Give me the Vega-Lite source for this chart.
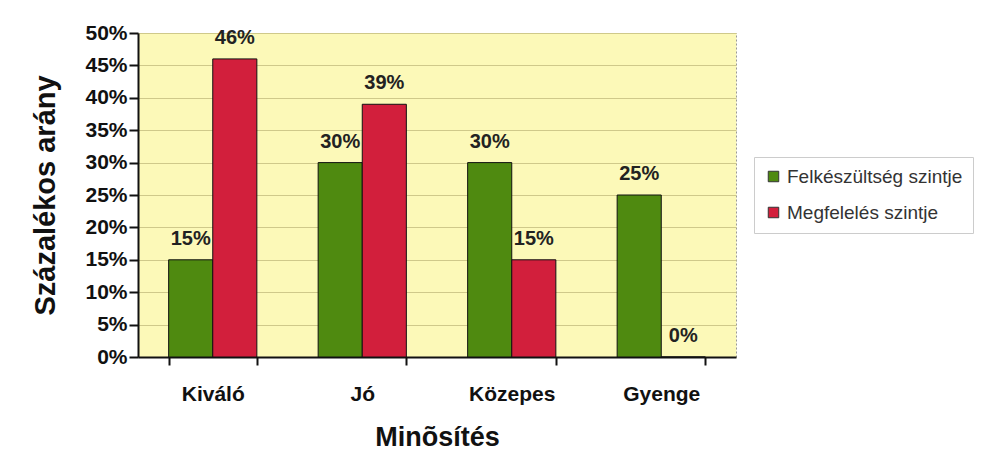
{
  "$schema": "https://vega.github.io/schema/vega-lite/v6.json",
  "width": 598,
  "height": 324,
  "autosize": {"type": "none"},
  "padding": {"left": 138, "top": 33, "right": 250, "bottom": 96},
  "background": "white",
  "config": {
    "font": "Liberation Sans",
    "view": {"fill": "#fcf9b8", "stroke": "#999999", "strokeDash": [2, 2], "strokeWidth": 1}
  },
  "data": {
    "values": [
      {"kat": "Kiváló", "sor": "Felkészültség szintje", "v": 0.15},
      {"kat": "Kiváló", "sor": "Megfelelés szintje", "v": 0.46},
      {"kat": "Jó", "sor": "Felkészültség szintje", "v": 0.30},
      {"kat": "Jó", "sor": "Megfelelés szintje", "v": 0.39},
      {"kat": "Közepes", "sor": "Felkészültség szintje", "v": 0.30},
      {"kat": "Közepes", "sor": "Megfelelés szintje", "v": 0.15},
      {"kat": "Gyenge", "sor": "Felkészültség szintje", "v": 0.25},
      {"kat": "Gyenge", "sor": "Megfelelés szintje", "v": 0.0}
    ]
  },
  "encoding": {
    "x": {
      "field": "kat", "type": "nominal",
      "sort": ["Kiváló", "Jó", "Közepes", "Gyenge"],
      "scale": {"paddingInner": 0.41, "paddingOuter": 0.205},
      "axis": {
        "title": "Minõsítés", "titleFontSize": 27, "titleFontWeight": "bold", "titleColor": "#111",
        "titlePadding": 20,
        "labelAngle": 0, "labelFontSize": 21, "labelFontWeight": "bold", "labelColor": "#111",
        "labelPadding": 18, "tickBand": "extent", "tickSize": 8, "tickColor": "#111", "tickWidth": 2,
        "domainColor": "#111", "domainWidth": 2
      }
    },
    "xOffset": {"field": "sor", "type": "nominal", "sort": ["Felkészültség szintje", "Megfelelés szintje"], "scale": {"paddingInner": 0, "paddingOuter": 0}},
    "y": {
      "field": "v", "type": "quantitative",
      "scale": {"domain": [0, 0.5], "nice": false},
      "axis": {
        "title": "Százalékos arány", "titleFontSize": 29, "titleFontWeight": "bold", "titleColor": "#111",
        "titlePadding": 24,
        "format": ".0%", "values": [0, 0.05, 0.1, 0.15, 0.2, 0.25, 0.3, 0.35, 0.4, 0.45, 0.5],
        "labelFontSize": 21, "labelFontWeight": "bold", "labelColor": "#111", "labelPadding": 2,
        "tickSize": 9, "tickColor": "#111", "tickWidth": 2,
        "domainColor": "#111", "domainWidth": 2,
        "grid": true, "gridColor": "#cfc98a", "gridWidth": 1
      }
    }
  },
  "layer": [
    {
      "mark": {"type": "bar", "stroke": "#111", "strokeWidth": 1},
      "encoding": {
        "color": {
          "field": "sor", "type": "nominal",
          "scale": {"domain": ["Felkészültség szintje", "Megfelelés szintje"], "range": ["#4f8a10", "#d21f3c"]},
          "legend": {
            "title": null, "orient": "none", "legendX": 616, "legendY": 124,
            "symbolType": "square", "symbolSize": 110, "symbolStrokeColor": "#333", "symbolStrokeWidth": 1,
            "labelFontSize": 19, "labelColor": "#333", "rowPadding": 16,
            "strokeColor": "#cccccc", "padding": 10, "fillColor": "white",
            "labelLimit": 300
          }
        }
      }
    },
    {
      "mark": {"type": "text", "baseline": "alphabetic", "dy": -15, "fontSize": 20, "fontWeight": "bold", "color": "#222"},
      "encoding": {
        "text": {"field": "v", "type": "quantitative", "format": ".0%"}
      }
    }
  ]
}
